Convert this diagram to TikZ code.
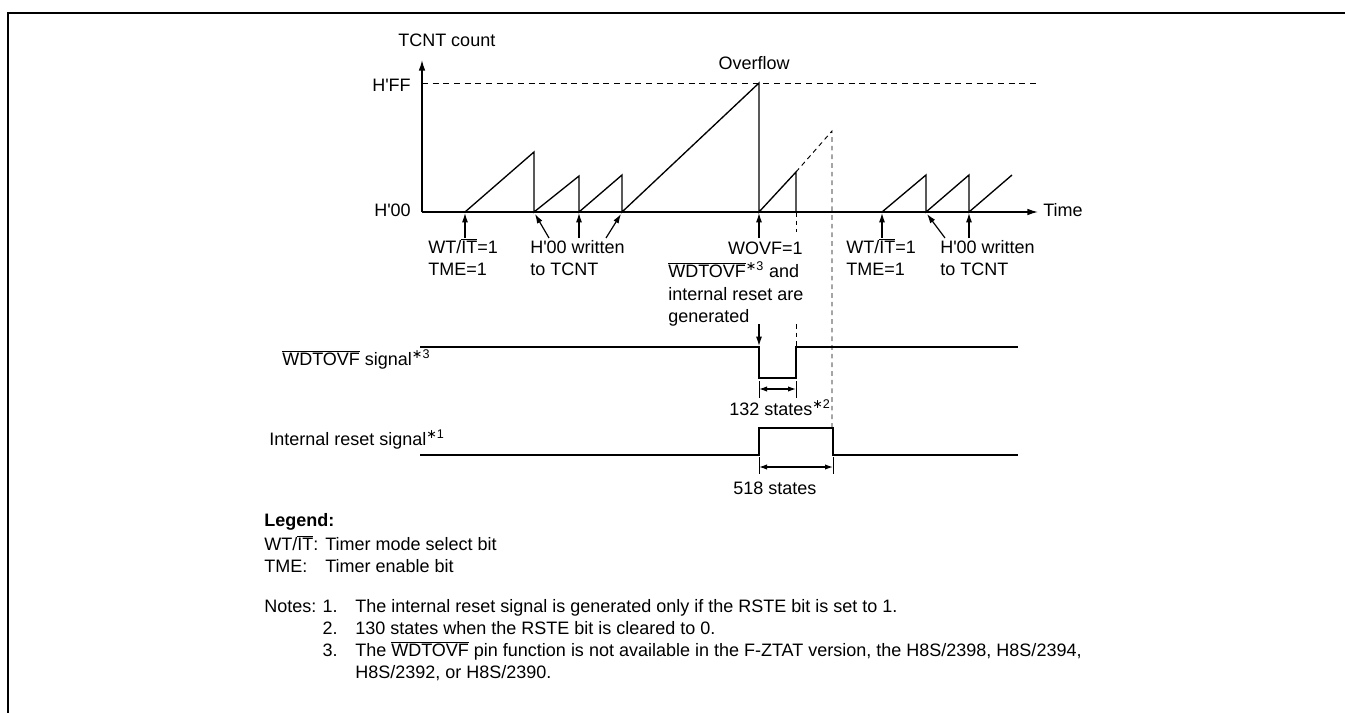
\documentclass[tikz,border=0pt]{standalone}
\usepackage{fontspec}
\setmainfont{Liberation Sans}
\newfontfamily\symfont{DejaVu Sans}
\usetikzlibrary{arrows.meta}
\newcommand{\ovl}[1]{\ensuremath{\overline{\hbox{#1}}}}
\newcommand{\starsup}[1]{\textsuperscript{{\symfont ∗}#1}}
\newcommand{\aq}{\textquotesingle}
\begin{document}
\begin{tikzpicture}[x=0.75pt,y=-0.75pt,
  txt/.style={inner sep=0pt,font=\fontsize{13.5}{17}\selectfont},
  lw/.style={txt,anchor=mid west},
  le/.style={txt,anchor=mid east},
  sig/.style={line width=1pt,line join=miter},
  frame/.style={line width=1.5pt},
  hdash/.style={line width=0.7pt,dash pattern=on 4.5pt off 3.5pt},
  vdash/.style={line width=0.7pt,dash pattern=on 3.5pt off 3pt},
  ptr/.style={line width=0.9pt,-{Latex[length=7pt,width=4.5pt]}},
  dim/.style={line width=0.9pt,{Latex[length=6pt,width=4pt]}-{Latex[length=6pt,width=4pt]}},
  tick/.style={line width=0.7pt}]
\useasboundingbox (0,0) rectangle (1345,713);
% frame
\draw[frame] (8,713) -- (8,13) -- (1345,13);

% axes
\coordinate (O) at (422,212);
\coordinate (Ytop) at (422,60);
\coordinate (Xend) at (1038,212);
\draw[line width=1pt,-{Latex[length=8pt,width=5pt]}] (O) -- (Ytop);
\draw[line width=1pt,-{Latex[length=8pt,width=5pt]}] (O) -- (Xend);
\coordinate (FFl) at (422,83);
\coordinate (FFr) at (1036,83);
\draw[hdash] (FFl) -- (FFr);

\node[lw] (tcnt) at (398,43) {TCNT count};
\node[le] (hff) at (411,88) {H\aq FF};
\node[le] (h00) at (411,213) {H\aq 00};
\node[txt,anchor=mid] (ovf) at (754,66) {Overflow};
\node[lw] (time) at (1043,213) {Time};

% sawtooth
\draw[sig] (465,212) -- (534,152) -- (534,212) -- (579,176) -- (579,212)
  -- (622,175) -- (622,212) -- (759,83) -- (759,212) -- (796,172) -- (796,212);
\draw[vdash] (796,172) -- (832,131) -- (832,428);
\draw[vdash] (796,212) -- (796,232);
\draw[vdash] (796,324) -- (796,347);
\draw[sig] (882,212) -- (926,175) -- (926,212) -- (969,175) -- (969,212) -- (1012,175);

% event arrows
\coordinate (a1) at (465,238); \coordinate (t1) at (465,213);
\coordinate (a2) at (549,238); \coordinate (t2) at (535,214);
\coordinate (a3) at (579,238); \coordinate (t3) at (579,213);
\coordinate (a4) at (606,238); \coordinate (t4) at (621,214);
\coordinate (a5) at (759,238); \coordinate (t5) at (759,213);
\coordinate (a6) at (882,238); \coordinate (t6) at (882,213);
\coordinate (a7) at (945,238); \coordinate (t7) at (927,214);
\coordinate (a8) at (969,238); \coordinate (t8) at (969,213);
\foreach \i in {1,...,8} \draw[ptr] (a\i) -- (t\i);

% labels under axis
\node[lw] (wt1) at (428,250) {WT/\ovl{IT}=1};
\node[lw] (tme1) at (428,272) {TME=1};
\node[lw] (wr1) at (530,250) {H\aq 00 written};
\node[lw] (tc1) at (530,272) {to TCNT};
\node[le] (wovf) at (803,251) {WOVF=1};
\node[lw] (wdl) at (668,274) {\ovl{WDTOVF}\starsup{3} and};
\node[lw] (irl) at (668,297) {internal reset are};
\node[lw] (gen) at (668,319) {generated};
\node[lw] (wt2) at (846,250) {WT/\ovl{IT}=1};
\node[lw] (tme2) at (846,272) {TME=1};
\node[lw] (wr2) at (940,250) {H\aq 00 written};
\node[lw] (tc2) at (940,272) {to TCNT};

\coordinate (g1) at (759,324); \coordinate (g2) at (759,346);
\draw[ptr] (g1) -- (g2);

% WDTOVF signal
\draw[sig] (420,347) -- (759,347) -- (759,378) -- (796,378) -- (796,347) -- (1018,347);
\node[lw] (wdsig) at (282,362) {\ovl{WDTOVF} signal\starsup{3}};
\draw[tick] (759,381) -- (759,398);
\draw[tick] (796,381) -- (796,398);
\coordinate (d1) at (759,389); \coordinate (d2) at (796,389);
\draw[dim] (d1) -- (d2);
\node[lw] (s132) at (729,412) {132 states\starsup{2}};

% internal reset signal
\draw[sig] (420,455) -- (759,455) -- (759,428) -- (833,428) -- (833,455) -- (1018,455);
\node[lw] (irsig) at (269,442) {Internal reset signal\starsup{1}};
\draw[tick] (759,457) -- (759,474);
\draw[tick] (833,457) -- (833,474);
\coordinate (e1) at (759,467); \coordinate (e2) at (833,467);
\draw[dim] (e1) -- (e2);
\node[lw] (s518) at (733,491) {518 states};

% legend
\node[lw,font=\fontsize{13.5}{17}\selectfont\bfseries] (leg) at (264,523) {Legend:};
\node[lw] (lg1) at (264,547) {WT/\ovl{IT}:};
\node[lw] (lg1t) at (325,547) {Timer mode select bit};
\node[lw] (lg2) at (264,569) {TME:};
\node[lw] (lg2t) at (325,569) {Timer enable bit};

% notes
\node[lw] (nts) at (264,609) {Notes:};
\node[le] (n1) at (338,609) {1.};
\node[lw] (n1t) at (355,609) {The internal reset signal is generated only if the RSTE bit is set to 1.};
\node[le] (n2) at (338,631) {2.};
\node[lw] (n2t) at (355,631) {130 states when the RSTE bit is cleared to 0.};
\node[le] (n3) at (338,653) {3.};
\node[lw] (n3t) at (355,653) {The \ovl{WDTOVF} pin function is not available in the F-ZTAT version, the H8S/2398, H8S/2394,};
\node[lw] (n4t) at (355,675) {H8S/2392, or H8S/2390.};
\end{tikzpicture}
\end{document}
